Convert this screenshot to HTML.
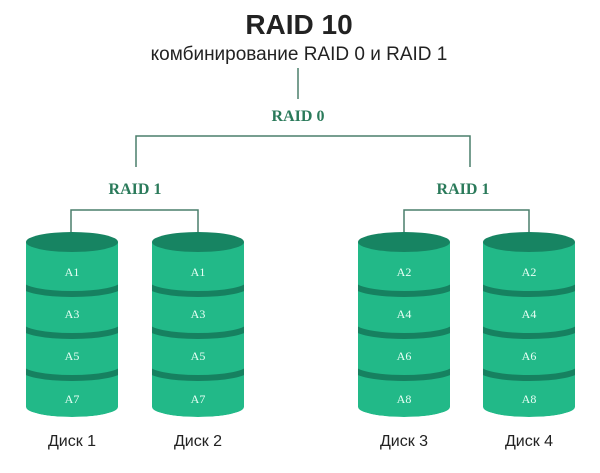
<!DOCTYPE html>
<html><head><meta charset="utf-8"><style>
html,body{margin:0;padding:0;background:#fff;}
</style></head><body>
<svg width="600" height="468" viewBox="0 0 600 468" xmlns="http://www.w3.org/2000/svg">
<text x="299" y="34" text-anchor="middle" font-family="Liberation Sans, sans-serif" font-weight="bold" font-size="28" fill="#222">RAID 10</text>
<text x="299" y="60" text-anchor="middle" font-family="Liberation Sans, sans-serif" font-size="19" fill="#222">комбинирование RAID 0 и RAID 1</text>
<g stroke="#4a7f6b" stroke-width="1.5" fill="none">
<line x1="298" y1="68" x2="298" y2="99"/>
<polyline points="136,167 136,136 470,136 470,167"/>
<polyline points="71,242 71,210 198,210 198,242"/>
<polyline points="404,242 404,210 529,210 529,242"/>
</g>
<g font-family="Liberation Serif, serif" font-weight="bold" fill="#2a7a5a" font-size="16" text-anchor="middle">
<text x="298" y="121">RAID 0</text>
<text x="135" y="194">RAID 1</text>
<text x="463" y="194">RAID 1</text>
</g>
<defs>
<clipPath id="cp"><path d="M-46,230 L-46,407 A46,10 0 0 0 46,407 L46,230 Z"/></clipPath>
<g id="cyl">
<g clip-path="url(#cp)">
<path d="M-46,242 L-46,407 A46,10 0 0 0 46,407 L46,242 Z" fill="#22b988"/>
<path d="M-50,284 A50,10 0 0 0 50,284" stroke="#168160" stroke-width="6" fill="none"/>
<path d="M-50,326 A50,10 0 0 0 50,326" stroke="#168160" stroke-width="6" fill="none"/>
<path d="M-50,368 A50,10 0 0 0 50,368" stroke="#168160" stroke-width="6" fill="none"/>
</g>
<ellipse cx="0" cy="242" rx="46" ry="10" fill="#178462"/>
</g>
</defs>
<use href="#cyl" transform="translate(72,0)"/>
<use href="#cyl" transform="translate(198,0)"/>
<use href="#cyl" transform="translate(404,0)"/>
<use href="#cyl" transform="translate(529,0)"/>
<g font-family="Liberation Serif, serif" fill="#e8fff5" font-size="12" text-anchor="middle">
<text x="72" y="276">A1</text><text x="72" y="318">A3</text><text x="72" y="360">A5</text><text x="72" y="403">A7</text>
<text x="198" y="276">A1</text><text x="198" y="318">A3</text><text x="198" y="360">A5</text><text x="198" y="403">A7</text>
<text x="404" y="276">A2</text><text x="404" y="318">A4</text><text x="404" y="360">A6</text><text x="404" y="403">A8</text>
<text x="529" y="276">A2</text><text x="529" y="318">A4</text><text x="529" y="360">A6</text><text x="529" y="403">A8</text>
</g>
<g font-family="Liberation Sans, sans-serif" fill="#222" font-size="16" text-anchor="middle">
<text x="72" y="446">Диск 1</text>
<text x="198" y="446">Диск 2</text>
<text x="404" y="446">Диск 3</text>
<text x="529" y="446">Диск 4</text>
</g>
</svg>
</body></html>
